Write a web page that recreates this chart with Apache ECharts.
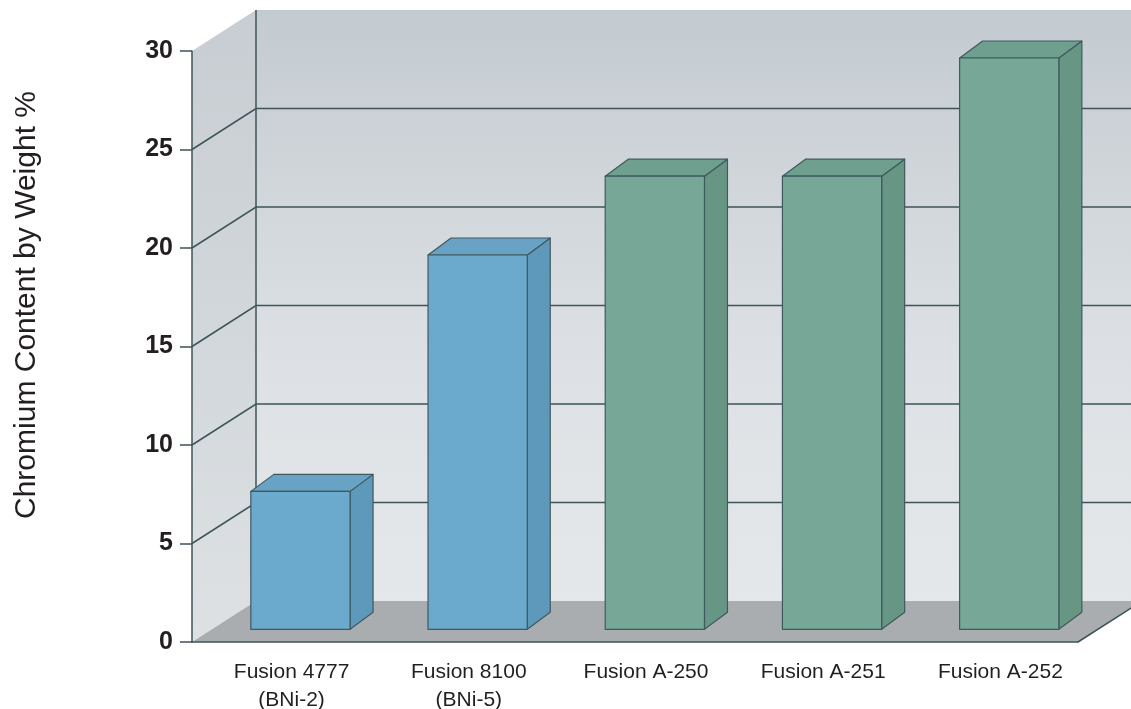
<!DOCTYPE html>
<html>
<head>
<meta charset="utf-8">
<script src="https://cdn.jsdelivr.net/npm/echarts@6/dist/echarts.min.js"></script>
<style>
  html, body { margin: 0; padding: 0; background: #fff; }
  #chart { width: 1131px; height: 709px; }
</style>
</head>
<body>
<div id="chart"></div>
<script>
// data
const categories = ['Fusion 4777\n(BNi-2)', 'Fusion 8100\n(BNi-5)', 'Fusion A-250', 'Fusion A-251', 'Fusion A-252'];
const chromium = [7, 19, 23, 23, 29];
const families = ['BNi', 'BNi', 'A', 'A', 'A'];
const yTicks = [0, 5, 10, 15, 20, 25, 30];

// 3d look
const DX = 64, DY = -41;          // depth of the box
const BAR_OFF = 0.31;             // where the bar front sits in the depth
const BAR_DX = 23, BAR_DY = -17;  // bar depth
const lineColor = '#3d5459';
const barColors = {
  BNi: { front: '#6ba9cd', top: '#68a3c6', side: '#5e98bb' },
  A:   { front: '#77a897', top: '#6f9f8f', side: '#679685' }
};

const chart = echarts.init(document.getElementById('chart'));

function renderBox(params, api) {
  const cs = params.coordSys;
  const x0 = cs.x, x1 = cs.x + cs.width;
  const yT = cs.y, yB = cs.y + cs.height;
  const kids = [];
  kids.push({
    type: 'polygon',
    shape: { points: [[x0, yT], [x0 + DX, yT + DY], [x0 + DX, yB + DY], [x0, yB]] },
    style: { fill: new echarts.graphic.LinearGradient(0, 0, 0, 1, [
      { offset: 0, color: '#c7cdd2' }, { offset: 1, color: '#dde1e4' }]) }
  });
  kids.push({
    type: 'rect',
    shape: { x: x0 + DX, y: yT + DY, width: x1 - x0, height: yB - yT },
    style: { fill: new echarts.graphic.LinearGradient(0, 0, 0, 1, [
      { offset: 0, color: '#c4cbd0' }, { offset: 0.6, color: '#dde1e5' }, { offset: 1, color: '#e5e8ea' }]) }
  });
  kids.push({
    type: 'polygon',
    shape: { points: [[x0, yB], [x0 + DX, yB + DY], [x1 + DX, yB + DY], [x1, yB]] },
    style: { fill: '#aaadb0' }
  });
  kids.push({
    type: 'line',
    shape: { x1: x0 + DX, y1: yT + DY, x2: x0 + DX, y2: yB + DY },
    style: { stroke: lineColor, lineWidth: 1.5 }
  });
  yTicks.forEach(function (t) {
    if (t === yTicks[0] || t === yTicks[yTicks.length - 1]) return;
    const y = api.coord([0, t])[1];
    kids.push({
      type: 'polyline',
      shape: { points: [[x0, y], [x0 + DX, y + DY], [x1 + DX, y + DY]] },
      style: { stroke: lineColor, lineWidth: 1.5, fill: null }
    });
  });
  kids.push({
    type: 'line',
    shape: { x1: x1, y1: yB, x2: x1 + DX, y2: yB + DY },
    style: { stroke: lineColor, lineWidth: 1.5 }
  });
  return { type: 'group', children: kids };
}

function renderBar(params, api) {
  const i = api.value(0), v = api.value(1);
  const base = api.coord([i, 0]);
  const top = api.coord([i, v]);
  const band = api.size([1, 0])[0];
  const w = band * 0.56;
  const l = base[0] + BAR_OFF * DX - w / 2, r = l + w;
  const b = base[1] + BAR_OFF * DY, t = top[1] + BAR_OFF * DY;
  const c = barColors[families[i]];
  const stroke = { stroke: '#3f5a5e', lineWidth: 1.2, lineJoin: 'round' };
  return {
    type: 'group',
    children: [
      { type: 'polygon', shape: { points: [[r, b], [r + BAR_DX, b + BAR_DY], [r + BAR_DX, t + BAR_DY], [r, t]] },
        style: Object.assign({ fill: c.side }, stroke) },
      { type: 'polygon', shape: { points: [[l, t], [l + BAR_DX, t + BAR_DY], [r + BAR_DX, t + BAR_DY], [r, t]] },
        style: Object.assign({ fill: c.top }, stroke) },
      { type: 'rect', shape: { x: l, y: t, width: w, height: b - t },
        style: Object.assign({ fill: c.front }, stroke) }
    ]
  };
}

const option = {
  animation: false,
  grid: { left: 192, right: 53, top: 51, bottom: 67, containLabel: false, outerBoundsMode: 'none' },
  xAxis: {
    type: 'category',
    data: categories,
    axisLine: { lineStyle: { color: lineColor, width: 1.5 } },
    axisTick: { length: 8, lineStyle: { color: lineColor, width: 1.5 } },
    axisLabel: { fontFamily: 'Liberation Sans, Arial', fontSize: 21, color: '#231f20',
                 lineHeight: 28, margin: 16, padding: [0, 0, 0, 22] },
    z: 10
  },
  yAxis: {
    type: 'value',
    min: yTicks[0], max: yTicks[yTicks.length - 1], interval: 5,
    axisLine: { show: true, lineStyle: { color: lineColor, width: 1.5 } },
    axisTick: { show: true, length: 12, lineStyle: { color: lineColor, width: 1.5 } },
    axisLabel: { fontFamily: 'Liberation Sans, Arial', fontSize: 25, fontWeight: 'bold',
                 color: '#231f20', margin: 19 },
    splitLine: { show: false },
    z: 10
  },
  graphic: [{
    type: 'text',
    x: 27, y: 305,
    rotation: Math.PI / 2,
    style: { text: 'Chromium Content by Weight %', fontFamily: 'Liberation Sans, Arial',
             fontSize: 30, fill: '#231f20', align: 'center', verticalAlign: 'middle' }
  }],
  series: [
    { type: 'custom', name: 'box', renderItem: renderBox, data: [[0, 0]], clip: false, z: 1, silent: true },
    { type: 'custom', name: 'Chromium', renderItem: renderBar,
      data: chromium.map(function (v, i) { return [i, v]; }), clip: false, z: 5 }
  ]
};

chart.setOption(option);
window.addEventListener('resize', function () { chart.resize(); });
</script>
</body>
</html>
